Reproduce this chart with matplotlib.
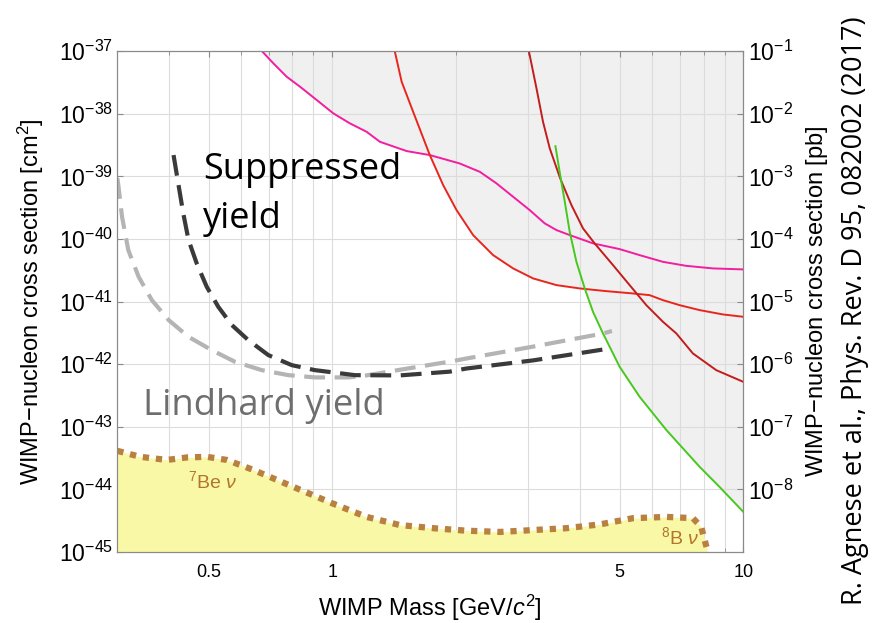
import numpy as np
import matplotlib
matplotlib.use("Agg")
import matplotlib.pyplot as plt
from matplotlib.ticker import FixedLocator, FixedFormatter, NullLocator

plt.rcParams['font.family'] = ['Liberation Sans', 'DejaVu Sans']
plt.rcParams['mathtext.fontset'] = 'custom'
plt.rcParams['mathtext.rm'] = 'Liberation Sans'
plt.rcParams['mathtext.it'] = 'Liberation Sans:italic'
plt.rcParams['mathtext.bf'] = 'Liberation Sans:bold'

######### data (mass in GeV/c^2, log10 of cross section in cm^2)

# magenta limit
pink_m = [0.674, 0.719, 0.775, 0.835, 0.917, 1.006, 1.104, 1.212, 1.306, 1.517, 1.727, 2.04, 2.285,
          2.509, 2.754, 3.022, 3.287, 3.511, 3.781, 4.308, 5.002, 5.594, 6.375, 7.263, 8.433, 10.0]
pink_s = [-37.0, -37.196, -37.411, -37.57, -37.783, -37.995, -38.155, -38.289, -38.449, -38.597, -38.661, -38.794, -38.928,
          -39.113, -39.327, -39.54, -39.752, -39.859, -39.939, -40.071, -40.163, -40.259, -40.366, -40.43, -40.471, -40.487]

# red limit
red_m = [1.420, 1.475, 1.573, 1.727, 1.861, 2.006, 2.201, 2.462, 2.754, 3.080, 3.511, 4.000, 4.643,
         5.389, 5.916, 6.375, 6.998, 7.828, 8.916, 10.0]
red_s = [-37.011, -37.49, -37.97, -38.661, -39.141, -39.54, -39.939, -40.259, -40.471, -40.631, -40.738, -40.791, -40.834,
         -40.871, -40.898, -40.978, -41.058, -41.137, -41.206, -41.244]

# dark red limit
dred_m = [3.010, 3.139, 3.256, 3.381, 3.585, 3.818, 4.074, 4.348, 4.818, 5.289, 5.808, 6.375, 6.871, 7.538, 8.592, 10.0]
dred_s = [-37.011, -37.596, -38.13, -38.554, -39.034, -39.46, -39.832, -40.072, -40.418, -40.738, -41.058, -41.324, -41.51,
          -41.829, -42.096, -42.283]

# green limit
green_m = [3.490, 3.585, 3.678, 3.781, 3.926, 4.113, 4.308, 4.556, 4.643, 5.002, 5.594, 6.50, 7.828, 8.749, 10.0]
green_s = [-38.518, -38.981, -39.407, -39.887, -40.366, -40.791, -41.165, -41.51, -41.617, -42.043, -42.522, -43.054,
           -43.64, -43.96, -44.36]

# projected sensitivity, suppressed yield
supp_m = [0.411, 0.422, 0.434, 0.447, 0.468, 0.495, 0.528, 0.570, 0.625, 0.699, 0.797, 0.908, 1.054, 1.135,
          1.46, 1.93, 2.12, 3.08, 4.73]
supp_s = [-38.661, -39.113, -39.592, -40.019, -40.391, -40.765, -41.084, -41.377, -41.617, -41.856, -42.016, -42.096,
          -42.149, -42.176, -42.18, -42.12, -42.07, -41.94, -41.75]

# projected sensitivity, Lindhard yield
lind_m = [0.300, 0.302, 0.308, 0.319, 0.338, 0.364, 0.400, 0.447, 0.509, 0.580, 0.674, 0.782, 0.908, 1.094,
          1.212, 1.46, 1.93, 2.12, 3.08, 4.56, 4.79]
lind_s = [-39.029, -39.168, -39.647, -40.179, -40.605, -40.978, -41.297, -41.564, -41.776, -41.963, -42.096, -42.176,
          -42.212, -42.212, -42.18, -42.09, -41.96, -41.91, -41.72, -41.51, -41.47]

# neutrino floor
nu_m = [0.300, 0.341, 0.396, 0.443, 0.495, 0.554, 0.643, 0.804, 1.006, 1.212, 1.46, 1.76, 2.12, 2.56, 3.08, 3.71,
        4.47, 5.39, 6.50, 7.54, 7.90, 8.05, 8.20]
nu_s = [-43.385, -43.48, -43.53, -43.49, -43.48, -43.53, -43.69, -43.96, -44.23, -44.44, -44.57, -44.62, -44.66,
        -44.68, -44.65, -44.62, -44.56, -44.46, -44.44, -44.46, -44.60, -44.81, -45.0]

xtick_vals = [0.5, 1, 5, 10]
xtick_labels = ['0.5', '1', '5', '10']
left_exps = list(range(-37, -46, -1))
right_exps = list(range(-1, -9, -1))

######### figure
fig = plt.figure(figsize=(8.77, 6.23), dpi=100)
ax = fig.add_axes([0.1338, 0.114, 0.7138, 0.804])
ax.set_xscale('log')
ax.set_yscale('log')
ax.set_xlim(0.3, 10)
ax.set_ylim(1e-45, 1e-37)

# excluded region: above the lowest of the limit curves
limits = [(pink_m, pink_s), (red_m, red_s), (dred_m, dred_s), (green_m, green_s)]
xs = np.logspace(np.log10(pink_m[0]), 1, 800)
env = np.full(xs.shape, np.inf)
for mm, ss in limits:
    lm = np.log10(mm)
    inside = (np.log10(xs) >= lm[0]) & (np.log10(xs) <= lm[-1])
    vals = np.interp(np.log10(xs), lm, ss)
    env = np.where(inside, np.minimum(env, vals), env)
ax.fill_between(xs, 10.0 ** env, 1e-37, color='#f0f0f0', lw=0, zorder=1)

ax.plot(pink_m, 10.0 ** np.array(pink_s), color='#f21d9f', lw=1.4, zorder=3)
ax.plot(red_m, 10.0 ** np.array(red_s), color='#e8261e', lw=1.4, zorder=3)
ax.plot(dred_m, 10.0 ** np.array(dred_s), color='#c21c1c', lw=1.4, zorder=3)
ax.plot(green_m, 10.0 ** np.array(green_s), color='#46c81e', lw=1.4, zorder=3)

ax.plot(lind_m, 10.0 ** np.array(lind_s), color='#b4b4b4', lw=3, dashes=(5, 2.3), zorder=4)
ax.plot(supp_m, 10.0 ** np.array(supp_s), color='#3a3a3a', lw=3, dashes=(5, 2.3), zorder=4)

# neutrino floor
nu_y = 10.0 ** np.array(nu_s)
ax.fill_between(nu_m, nu_y, 1e-46, color='#f8f8a6', lw=0, zorder=2.5)
ax.plot(nu_m, nu_y, color='#b98040', lw=4.5, linestyle=(0, (1, 1.1)),
        dash_capstyle='butt', zorder=3)
ax.text(0.445, 10 ** -43.98, r'$^{7}$Be $\mathit{\nu}$', color='#b3742c', fontsize=14, ha='left', va='baseline', zorder=5)
ax.text(6.3, 10 ** -44.87, r'$^{8}$B $\mathit{\nu}$', color='#b3742c', fontsize=14, ha='left', va='baseline', zorder=5)

# annotations
big = ['Open Sans', 'DejaVu Sans']
ax.text(0.485, 10 ** -39.04, 'Suppressed', family=big, fontsize=26, color='black', va='baseline', zorder=6)
ax.text(0.485, 10 ** -39.83, 'yield', family=big, fontsize=26, color='black', va='baseline', zorder=6)
ax.text(0.3467, 10 ** -42.81, 'Lindhard yield', family=big, fontsize=26.3, color='#6e6e6e', va='baseline', zorder=6)

# axes styling
ax.xaxis.set_major_locator(FixedLocator(xtick_vals))
ax.xaxis.set_major_formatter(FixedFormatter(xtick_labels))
ax.xaxis.set_minor_locator(FixedLocator([0.4, 0.6, 0.7, 0.8, 0.9, 2, 3, 4, 6, 7, 8, 9]))
ax.xaxis.set_minor_formatter(FixedFormatter([]))
ax.set_yticks([10.0 ** e for e in left_exps])
ax.set_yticklabels([r'$10^{%d}$' % e for e in left_exps])
ax.yaxis.set_minor_locator(NullLocator())

ax.grid(which='both', axis='x', color='#dcdcdc', lw=0.8)
ax.grid(which='major', axis='y', color='#dcdcdc', lw=0.8)

for s in ax.spines.values():
    s.set_color('#8a8a8a')
ax.tick_params(axis='x', which='both', direction='in', top=True, bottom=True, color='#8a8a8a',
               labelsize=13, pad=9)
ax.tick_params(axis='x', which='major', length=4)
ax.tick_params(axis='x', which='minor', length=3)
ax.tick_params(axis='y', which='major', direction='in', left=True, right=False, length=4,
               color='#8a8a8a', labelsize=16.5, pad=3)

ax.set_xlabel(r'WIMP Mass [GeV/$c^2$]', fontsize=17)
ax.set_ylabel(r'WIMP$-$nucleon cross section [cm$^2$]', fontsize=17)
ax.yaxis.set_label_coords(-0.114, 0.5)
ax.xaxis.set_label_coords(0.5, -0.081)

# right axis in pb
ax2 = ax.twinx()
ax2.set_yscale('log')
ax2.set_ylim(1e-9, 1e-1)
ax2.set_yticks([10.0 ** e for e in right_exps])
ax2.set_yticklabels([r'$10^{%d}$' % e for e in right_exps])
ax2.yaxis.set_minor_locator(NullLocator())
ax2.tick_params(axis='y', which='major', direction='in', length=4, color='#8a8a8a',
                labelsize=16.5, pad=3)
for s in ax2.spines.values():
    s.set_color('#8a8a8a')
ax2.set_ylabel(r'WIMP$-$nucleon cross section [pb]', fontsize=17)
ax2.yaxis.set_label_coords(1.097, 0.5)

fig.text(0.975, 0.502, 'R. Agnese et al., Phys. Rev. D 95, 082002 (2017)',
         family=big, fontsize=19.5, rotation=90, ha='center', va='center')

fig.savefig('out.png', dpi=100)
